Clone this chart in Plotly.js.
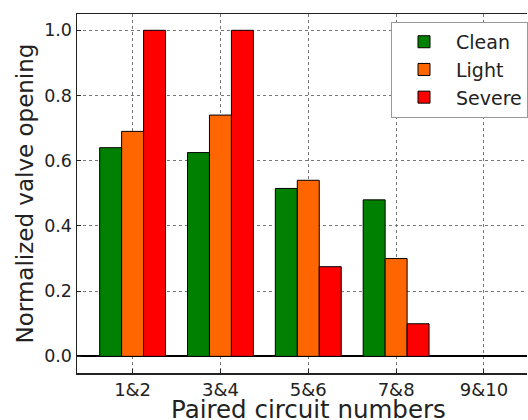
<!DOCTYPE html>
<html>
<head>
<meta charset="utf-8">
<script src="https://cdn.plot.ly/plotly-3.0.1.min.js"></script>
<style>html,body{margin:0;padding:0;background:#fff;}#chart{width:528px;height:420px;}</style>
</head>
<body>
<div id="chart"></div>
<script>
const categories = ["1&2", "3&4", "5&6", "7&8", "9&10"];
const seriesNames = ["Clean", "Light", "Severe"];
const clean = [0.64, 0.625, 0.515, 0.48, 0];
const light = [0.69, 0.74, 0.54, 0.30, 0];
const severe = [1.0, 1.0, 0.275, 0.10, 0];
const colors = ["#008000", "#ff6600", "#ff0000"];
const yTicks = [0.0, 0.2, 0.4, 0.6, 0.8, 1.0];
const xTitle = "Paired circuit numbers";
const yTitle = "Normalized valve opening";

const values = [clean, light, severe];
const traces = values.map((v, i) => ({
  type: "bar",
  name: seriesNames[i],
  x: categories,
  y: v,
  marker: {color: colors[i], line: {color: "#000", width: 1}}
}));

const font = "DejaVu Sans, sans-serif";
const layout = {
  width: 528, height: 420,
  margin: {l: 77, r: 0, t: 14, b: 47, pad: 0},
  paper_bgcolor: "#fff", plot_bgcolor: "#fff",
  barmode: "group", bargap: 0.25, bargroupgap: 0,
  font: {family: font, color: "#222"},
  showlegend: true,
  legend: {
    x: 0.698, y: 0.978, xanchor: "left", yanchor: "top",
    bgcolor: "#fff", bordercolor: "#999", borderwidth: 1,
    font: {family: font, size: 19, color: "#222"},
    itemwidth: 54
  },
  xaxis: {
    type: "category",
    categoryorder: "array", categoryarray: categories,
    range: [-0.633, 4.49],
    showline: true, linecolor: "#222", linewidth: 1.5, mirror: true,
    ticks: "inside", ticklen: 4, tickcolor: "#222",
    showgrid: true, gridcolor: "#777", griddash: "dot", gridwidth: 1,
    tickfont: {family: font, size: 18, color: "#222"},
    zeroline: false
  },
  yaxis: {
    range: [-0.051, 1.05],
    tickvals: yTicks, ticktext: yTicks.map(t => t.toFixed(1)),
    showline: true, linecolor: "#222", linewidth: 1.5,
    ticks: "inside", ticklen: 4, tickcolor: "#222",
    showgrid: true, gridcolor: "#777", griddash: "dot", gridwidth: 1,
    zeroline: true, zerolinecolor: "#000", zerolinewidth: 2,
    tickfont: {family: font, size: 17.5, color: "#222"},
    title: {text: yTitle, font: {family: font, size: 23, color: "#222"}, standoff: 4}
  },
  annotations: [{
    text: xTitle, showarrow: false,
    xref: "paper", yref: "paper", x: 0.514, y: 0,
    xanchor: "center", yanchor: "middle", yshift: -36.5,
    font: {family: font, size: 24.5, color: "#222"}
  }]
};

Plotly.newPlot("chart", traces, layout, {displayModeBar: false, staticPlot: true});
</script>
</body>
</html>
